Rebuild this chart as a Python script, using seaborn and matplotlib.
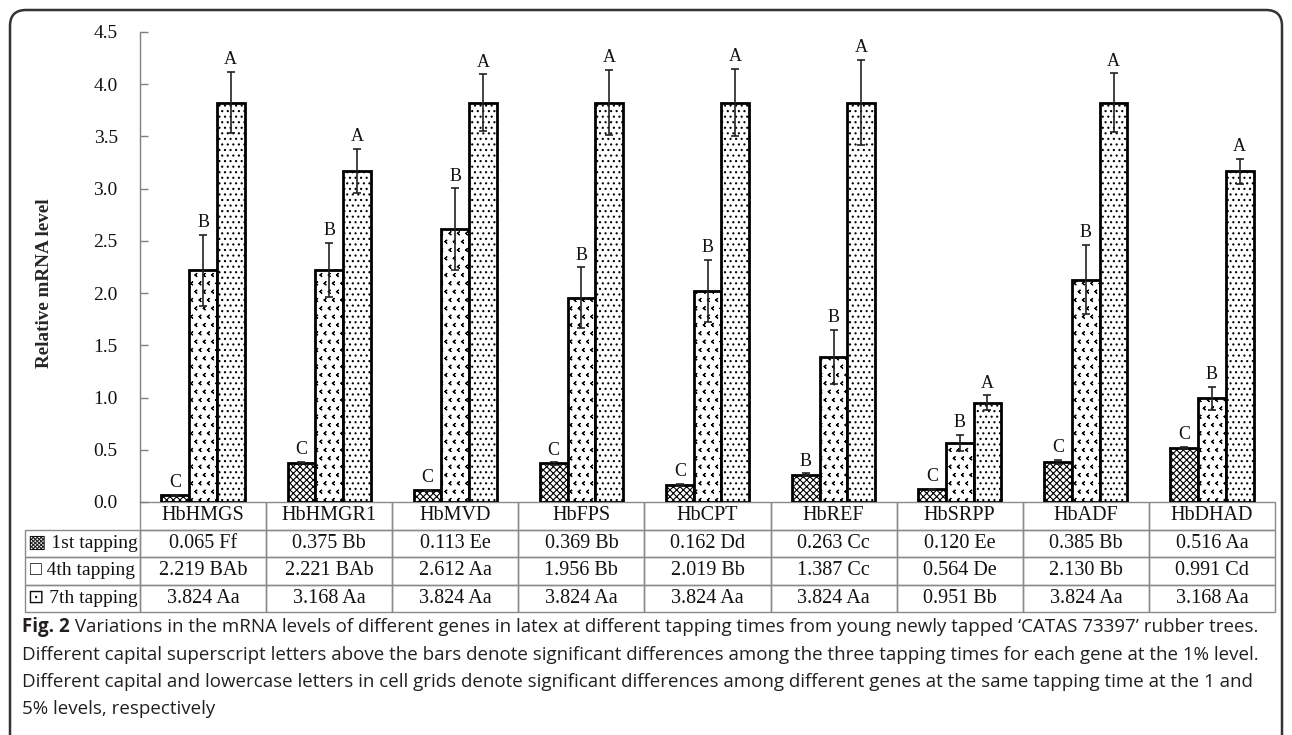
import matplotlib
matplotlib.use('Agg')
import matplotlib.pyplot as plt
import matplotlib.transforms as mtrans
import matplotlib.hatch as mhatch
from matplotlib.path import Path
from matplotlib.patches import FancyBboxPatch
import seaborn as sns
import pandas as pd
import numpy as np

# ---------------- data ----------------
genes = ['HbHMGS', 'HbHMGR1', 'HbMVD', 'HbFPS', 'HbCPT', 'HbREF', 'HbSRPP', 'HbADF', 'HbDHAD']
tappings = ['1st tapping', '4th tapping', '7th tapping']
first = [0.065, 0.375, 0.113, 0.369, 0.162, 0.263, 0.120, 0.385, 0.516]
fourth = [2.219, 2.221, 2.612, 1.956, 2.019, 1.387, 0.564, 2.130, 0.991]
seventh = [3.824, 3.168, 3.824, 3.824, 3.824, 3.824, 0.951, 3.824, 3.168]
err_first = [0.005, 0.005, 0.005, 0.01, 0.01, 0.01, 0.005, 0.02, 0.01]
err_fourth = [0.34, 0.26, 0.39, 0.29, 0.30, 0.26, 0.08, 0.33, 0.11]
err_seventh = [0.29, 0.21, 0.27, 0.31, 0.32, 0.41, 0.07, 0.28, 0.12]
letters_first = ['C', 'C', 'C', 'C', 'C', 'B', 'C', 'C', 'C']
letters_fourth = ['B', 'B', 'B', 'B', 'B', 'B', 'B', 'B', 'B']
letters_seventh = ['A', 'A', 'A', 'A', 'A', 'A', 'A', 'A', 'A']
table_first = ['0.065 Ff', '0.375 Bb', '0.113 Ee', '0.369 Bb', '0.162 Dd', '0.263 Cc', '0.120 Ee', '0.385 Bb', '0.516 Aa']
table_fourth = ['2.219 BAb', '2.221 BAb', '2.612 Aa', '1.956 Bb', '2.019 Bb', '1.387 Cc', '0.564 De', '2.130 Bb', '0.991 Cd']
table_seventh = ['3.824 Aa', '3.168 Aa', '3.824 Aa', '3.824 Aa', '3.824 Aa', '3.824 Aa', '0.951 Bb', '3.824 Aa', '3.168 Aa']
row_labels = ['\u25A9 1st tapping', '\u25A1 4th tapping', '\u22A1 7th tapping']
yticks = [0.0, 0.5, 1.0, 1.5, 2.0, 2.5, 3.0, 3.5, 4.0, 4.5]
caption_bold = 'Fig. 2'
caption_lines = [
    ' Variations in the mRNA levels of different genes in latex at different tapping times from young newly tapped \u2018CATAS 73397\u2019 rubber trees.',
    'Different capital superscript letters above the bars denote significant differences among the three tapping times for each gene at the 1% level.',
    'Different capital and lowercase letters in cell grids denote significant differences among different genes at the same tapping time at the 1 and',
    '5% levels, respectively',
]


# ---------------- chevron hatch (replaces the '*' pattern) ----------------
class Chevrons(mhatch.Shapes):
    size = 0.36
    filled = False

    def __init__(self, hatch, density):
        self.num_rows = hatch.count('*') * density
        self.shape_vertices = np.array([[0.3, 0.5], [-0.3, 0.0], [0.3, -0.5]])
        self.shape_codes = np.array([Path.MOVETO, Path.LINETO, Path.LINETO], dtype=Path.code_type)
        super().__init__(hatch, density)


mhatch._hatch_types = [Chevrons if c is mhatch.Stars else c for c in mhatch._hatch_types]

# ---------------- style ----------------
sns.set_theme(style='white')
plt.rcParams['font.family'] = ['Liberation Serif', 'DejaVu Sans']
plt.rcParams['hatch.linewidth'] = 0.8

W, H = 1292, 735
fig = plt.figure(figsize=(W / 100, H / 100), dpi=100)
fig.patch.set_facecolor('white')

ax_l, ax_r, ax_t, ax_b = 140, 1275, 32, 502
ax = fig.add_axes([ax_l / W, 1 - ax_b / H, (ax_r - ax_l) / W, (ax_b - ax_t) / H])

df = pd.DataFrame({
    'gene': genes * 3,
    'tapping': [tappings[0]] * 9 + [tappings[1]] * 9 + [tappings[2]] * 9,
    'value': first + fourth + seventh,
})

sns.barplot(data=df, x='gene', y='value', hue='tapping', order=genes, hue_order=tappings,
            palette=['white'] * 3, saturation=1, width=0.66, errorbar=None,
            edgecolor='black', linewidth=2, legend=False, ax=ax)

hatches = ['xxxxx', '**', '...']
errs = [err_first, err_fourth, err_seventh]
letters = [letters_first, letters_fourth, letters_seventh]
bar_containers = list(ax.containers)
for k, cont in enumerate(bar_containers):
    xs, ys = [], []
    for p in cont.patches:
        p.set_hatch(hatches[k])
        p.set_edgecolor('black')
        xs.append(p.get_x() + p.get_width() / 2)
        ys.append(p.get_height())
    ax.errorbar(xs, ys, yerr=errs[k], fmt='none', ecolor='#222222', elinewidth=1.2,
                capsize=2.8, capthick=1.2, zorder=3)
    for x, y, e, lab in zip(xs, ys, errs[k], letters[k]):
        ax.text(x, y + e + 0.075, lab, ha='center', va='baseline', fontsize=13, color='#111111')

ax.set_ylim(0, 4.5)
ax.set_xlim(-0.5, 8.5)
ax.set_yticks(yticks)
ax.set_yticklabels([f'{v:.1f}' for v in yticks])
ax.set_xticks([])
ax.set_xlabel('')
ax.set_ylabel('')
for s in ['top', 'right', 'bottom']:
    ax.spines[s].set_visible(False)
ax.spines['left'].set_color('#808080')
ax.spines['left'].set_linewidth(1)
ax.tick_params(axis='y', direction='in', length=6, width=1, color='#808080',
               labelsize=14, pad=16, labelcolor='#111111', left=True)

ax.text((45 - ax_l) / (ax_r - ax_l), (ax_b - 283) / (ax_b - ax_t), 'Relative mRNA level', rotation=90,
        ha='center', va='center', fontsize=13.8, fontweight='bold', transform=ax.transAxes)

# ---------------- table ----------------
cell_text = [[''] + genes,
             [row_labels[0]] + table_first,
             [row_labels[1]] + table_fourth,
             [row_labels[2]] + table_seventh]
tab_l, tab_b = 25, 612
aw, ah = ax_r - ax_l, ax_b - ax_t
col_w = [ax_l - tab_l] + [(ax_r - ax_l) / 9] * 9
tbl = ax.table(cellText=cell_text, colWidths=[c / sum(col_w) for c in col_w], cellLoc='center',
               bbox=[(tab_l - ax_l) / aw, -(tab_b - ax_b) / ah, (ax_r - tab_l) / aw, (tab_b - ax_b) / ah])
tbl.auto_set_font_size(False)
tbl.set_fontsize(14.5)
for (r, c), cell in tbl.get_celld().items():
    cell.set_edgecolor('#8a8a8a')
    cell.set_linewidth(1)
    cell.set_facecolor('none')
    cell.get_text().set_color('#111111')
    if r == 0 and c == 0:
        cell.visible_edges = ''
    if c == 0 and r > 0:
        cell.get_text().set_fontsize(14)

# ---------------- frame & caption ----------------
frame = FancyBboxPatch((10, -30), W - 20, H - 10 + 30, boxstyle='round,pad=0,rounding_size=16',
                       transform=mtrans.IdentityTransform(), fill=False, lw=1.8, ec='#333333')
fig.add_artist(frame)

cap_y = [627, 655, 682, 709]
cap_x = 22 / W
cap_fs = 13.5
t0 = fig.text(cap_x, 1 - cap_y[0] / H, caption_bold, fontsize=cap_fs, fontweight='bold',
              family='Open Sans', va='center', ha='left', color='#231f20')
ax.annotate(caption_lines[0], xy=(1, 0.5), xycoords=t0, va='center', ha='left', fontsize=cap_fs,
            family='Open Sans', color='#231f20', annotation_clip=False)
for line, y in zip(caption_lines[1:], cap_y[1:]):
    fig.text(cap_x, 1 - y / H, line, fontsize=cap_fs, family='Open Sans', va='center', ha='left',
             color='#231f20')

fig.savefig('out.png', dpi=100, facecolor='white')
